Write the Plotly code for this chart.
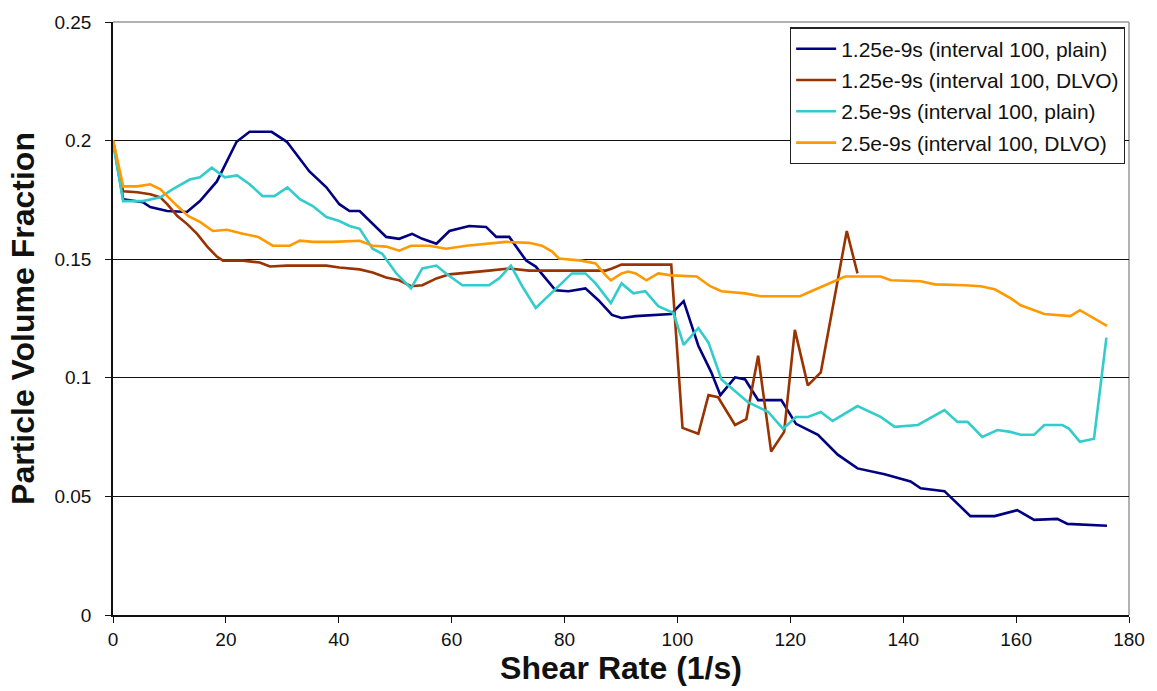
import plotly.graph_objects as go

# Shear rate (1/s) and particle volume fraction for each run
plain_125_x = [0, 1.8, 5.3, 6.6, 9.6, 13.1, 15.4, 18.4, 21.9, 24.2, 28.1, 30.8, 34.8, 37.8,
               40.1, 41.9, 43.7, 46.0, 48.4, 50.7, 53.0, 54.8, 57.3, 59.6, 63.1, 66.1, 67.9,
               70.2, 73.2, 74.9, 78.4, 80.7, 83.7, 86.0, 88.4, 90.1, 92.6, 98.9, 101.1, 103.7,
               106.0, 107.6, 110.2, 112.0, 114.3, 118.4, 121.0, 124.9, 128.4, 131.9, 136.7,
               141.3, 143.1, 147.3, 151.9, 156.2, 160.2, 163.2, 167.3, 169.1, 176.1]
plain_125_y = [0.200, 0.1753, 0.1740, 0.1720, 0.1703, 0.1699, 0.1745, 0.1828, 0.1995, 0.2037,
               0.2037, 0.1995, 0.1870, 0.1803, 0.1732, 0.1703, 0.1703, 0.1649, 0.1594, 0.1586,
               0.1607, 0.1586, 0.1565, 0.1619, 0.1640, 0.1636, 0.1594, 0.1594, 0.1494, 0.1469,
               0.1369, 0.1365, 0.1377, 0.1327, 0.1265, 0.1252, 0.1260, 0.1269, 0.1323, 0.1135,
               0.1023, 0.0927, 0.1002, 0.0993, 0.0906, 0.0906, 0.0806, 0.0760, 0.0676, 0.0618,
               0.0593, 0.0563, 0.0534, 0.0522, 0.0417, 0.0417, 0.0442, 0.0401, 0.0405, 0.0384,
               0.0376]

dlvo_125_x = [0, 1.8, 4.3, 6.6, 8.4, 9.6, 11.4, 13.1, 14.9, 16.7, 18.4, 19.5, 23.0, 26.0, 27.8,
              30.8, 34.3, 37.8, 40.1, 43.7, 46.0, 48.4, 50.7, 52.8, 54.8, 57.3, 59.6, 63.6,
              66.6, 70.2, 73.7, 83.1, 87.3, 88.4, 90.1, 98.9, 100.9, 103.7, 105.5, 107.2,
              110.2, 112.2, 114.3, 116.6, 118.9, 120.8, 123.1, 125.4, 130.0, 131.9]
dlvo_125_y = [0.200, 0.1786, 0.1782, 0.1774, 0.1761, 0.1732, 0.1682, 0.1649, 0.1607, 0.1553,
              0.1511, 0.1494, 0.1494, 0.1486, 0.1469, 0.1473, 0.1473, 0.1473, 0.1465, 0.1457,
              0.1444, 0.1423, 0.1411, 0.1386, 0.1390, 0.1419, 0.1436, 0.1444, 0.1452, 0.1461,
              0.1452, 0.1452, 0.1452, 0.1461, 0.1477, 0.1477, 0.0789, 0.0764, 0.0927, 0.0918,
              0.0801, 0.0826, 0.1093, 0.0689, 0.0772, 0.1202, 0.0968, 0.1023, 0.1619, 0.1440]

plain_25_x = [0, 1.8, 5.3, 8.4, 10.6, 13.6, 15.4, 17.5, 19.8, 22.0, 24.2, 26.5, 28.6, 30.9,
              33.1, 35.4, 37.8, 40.1, 41.9, 43.7, 46.0, 47.7, 50.2, 52.8, 54.8, 57.3, 59.0,
              61.9, 66.6, 68.4, 70.5, 72.5, 74.9, 78.5, 81.3, 83.7, 85.5, 88.2, 90.1, 92.2,
              94.3, 96.6, 99.3, 101.1, 103.7, 105.5, 107.8, 112.5, 116.1, 118.7, 121.0, 123.1,
              125.4, 127.5, 131.9, 136.0, 138.5, 142.6, 147.3, 149.6, 151.4, 154.0, 156.7,
              159.0, 160.8, 163.2, 165.0, 168.2, 169.4, 171.3, 173.8, 176.0]
plain_25_y = [0.199, 0.1745, 0.1745, 0.1761, 0.1795, 0.1836, 0.1845, 0.1886, 0.1845, 0.1853,
              0.1816, 0.1766, 0.1766, 0.1803, 0.1753, 0.1724, 0.1678, 0.1661, 0.1640, 0.1628,
              0.1544, 0.1523, 0.1440, 0.1377, 0.1461, 0.1473, 0.1440, 0.1390, 0.1390, 0.1419,
              0.1473, 0.1386, 0.1294, 0.1377, 0.1440, 0.1440, 0.1398, 0.1315, 0.1398, 0.1356,
              0.1365, 0.1302, 0.1273, 0.1139, 0.1210, 0.1148, 0.0993, 0.0897, 0.0856, 0.0785,
              0.0835, 0.0835, 0.0856, 0.0818, 0.0881, 0.0835, 0.0793, 0.0801, 0.0864, 0.0814,
              0.0814, 0.0751, 0.0780, 0.0772, 0.0760, 0.0760, 0.0801, 0.0801, 0.0785, 0.0730,
              0.0743, 0.1169]

dlvo_25_x = [0, 1.8, 4.3, 6.6, 8.4, 9.6, 11.4, 13.3, 15.4, 17.7, 20.2, 23.0, 25.7, 28.3, 31.3,
             33.1, 35.4, 38.9, 41.9, 43.7, 46.0, 48.4, 50.7, 52.8, 56.0, 59.0, 62.6, 66.6,
             69.6, 73.7, 76.0, 77.8, 79.0, 83.0, 85.5, 87.3, 88.2, 90.1, 91.3, 92.6, 94.5,
             96.6, 98.9, 103.4, 105.8, 107.8, 112.0, 114.7, 121.7, 123.7, 126.1, 129.7, 136.0,
             137.8, 143.1, 145.6, 150.9, 153.7, 156.2, 159.0, 160.8, 165.0, 169.6, 171.3, 176.1]
dlvo_25_y = [0.2003, 0.1807, 0.1807, 0.1816, 0.1795, 0.1765, 0.1724, 0.1682, 0.1657, 0.1619,
             0.1624, 0.1607, 0.1594, 0.1557, 0.1557, 0.1578, 0.1573, 0.1573, 0.1578, 0.1578,
             0.1557, 0.1553, 0.1536, 0.1557, 0.1557, 0.1544, 0.1557, 0.1565, 0.1573, 0.1569,
             0.1557, 0.1532, 0.1503, 0.1494, 0.1482, 0.1432, 0.1411, 0.1440, 0.1448, 0.1440,
             0.1411, 0.1440, 0.1432, 0.1427, 0.1386, 0.1365, 0.1356, 0.1344, 0.1344, 0.1365,
             0.1390, 0.1427, 0.1427, 0.1411, 0.1407, 0.1394, 0.1390, 0.1386, 0.1373, 0.1336,
             0.1306, 0.1269, 0.1260, 0.1285, 0.1219]

series_names = ["1.25e-9s (interval 100, plain)", "1.25e-9s (interval 100, DLVO)",
                "2.5e-9s (interval 100, plain)", "2.5e-9s (interval 100, DLVO)"]
series_colors = ["#000080", "#993300", "#33CCCC", "#FF9900"]
series_data = [(plain_125_x, plain_125_y), (dlvo_125_x, dlvo_125_y),
               (plain_25_x, plain_25_y), (dlvo_25_x, dlvo_25_y)]

x_ticks = list(range(0, 181, 20))
y_ticks = [0, 0.05, 0.1, 0.15, 0.2, 0.25]
y_tick_text = ["0", "0.05", "0.1", "0.15", "0.2", "0.25"]

fig = go.Figure()
for i, ((xs, ys), name, color) in enumerate(zip(series_data, series_names, series_colors)):
    fig.add_trace(go.Scatter(
        x=xs, y=ys, name=name, mode="lines", legendgroup=f"g{i}",
        line=dict(color=color, width=2.6, shape="linear"),
    ))

font_family = "Liberation Sans, Arial, sans-serif"

fig.update_layout(
    width=1157, height=691,
    margin=dict(l=113, r=25, t=16, b=76),
    paper_bgcolor="white", plot_bgcolor="white",
    font=dict(family=font_family, color="#111111"),
    showlegend=True,
    legend=dict(
        x=0.996, y=0.991, xanchor="right", yanchor="top",
        bgcolor="white", bordercolor="#222222", borderwidth=1.2,
        font=dict(size=21, family=font_family, color="#111111"),
        tracegroupgap=1, itemwidth=40,
    ),
    xaxis=dict(
        range=[0, 180], tickvals=x_ticks, ticks="outside", ticklen=6, tickwidth=1,
        tickcolor="#111111", showline=True, linecolor="#111111", linewidth=1.5,
        showgrid=False, zeroline=False,
        tickfont=dict(size=19, color="#111111"),
        title=dict(text="<b>Shear Rate (1/s)</b>", font=dict(size=32, color="#111111"),
                   standoff=4),
    ),
    yaxis=dict(
        range=[0, 0.25], tickvals=y_ticks, ticktext=y_tick_text, ticks="outside",
        ticklen=6, tickwidth=1, tickcolor="#111111", showline=True, linecolor="#111111",
        linewidth=1.5, showgrid=True, gridcolor="#111111", gridwidth=1.3, zeroline=False,
        tickfont=dict(size=19, color="#111111"), ticklabelstandoff=10,
        title=dict(text="<b>Particle Volume Fraction</b>", font=dict(size=32, color="#111111"),
                   standoff=10),
    ),
    shapes=[
        dict(type="line", xref="paper", yref="paper", x0=0, x1=1, y0=1, y1=1,
             line=dict(color="#999999", width=1.5), layer="between"),
        dict(type="line", xref="paper", yref="paper", x0=1, x1=1, y0=0, y1=1,
             line=dict(color="#999999", width=1.5), layer="between"),
    ],
)

fig.write_html("out.html")
